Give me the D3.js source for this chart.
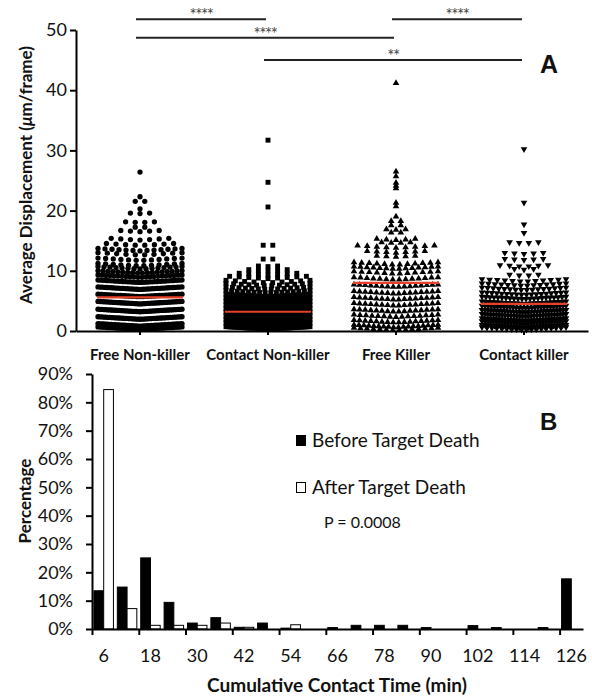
<!DOCTYPE html>
<html>
<head>
<meta charset="utf-8">
<script src="https://cdn.jsdelivr.net/npm/d3@7"></script>
<style>
  body { margin: 0; background: #fff; }
  text { font-family: Lato, "Open Sans", sans-serif; fill: #111; }
</style>
</head>
<body>
<div id="chart"></div>
<script>
// ---- panel A data: rows of [value, number of cells at that value] ----
const groups = ["Free Non-killer", "Contact Non-killer", "Free Killer", "Contact killer"];

const freeNonKiller = [
  [0.25, 30], [0.8, 45], [1.95, 45], [3.2, 45], [4.5, 45], [5.7, 42], [6.9, 38],
  [8.05, 32], [8.9, 22], [9.6, 18], [10.3, 15], [10.8, 12], [11.7, 12], [12.6, 10],
  [13.3, 13], [14.2, 8], [15.1, 7], [16.5, 5], [17.2, 2], [18.0, 4], [19.5, 3],
  [20.3, 1], [21.5, 2], [22.3, 1], [26.4, 1]
];
const contactNonKiller = [
  [0.3, 40], [0.9, 50], [1.5, 50], [2.1, 50], [2.7, 50], [3.3, 48], [3.9, 45],
  [4.5, 40], [5.1, 32], [5.7, 22], [6.3, 16], [6.9, 14], [7.5, 12], [8.0, 10],
  [8.7, 9], [9.3, 7], [10.0, 5], [10.7, 3], [11.9, 2], [14.2, 2], [20.6, 1],
  [24.7, 1], [31.7, 1]
];
const freeKiller = [
  [0.1, 14], [0.6, 18], [1.4, 16], [2.3, 15], [3.2, 16], [4.2, 16], [5.2, 16],
  [6.2, 16], [7.3, 16], [8.5, 14], [9.5, 12], [10.3, 14], [11.0, 12], [12.3, 5],
  [13.0, 7], [13.8, 9], [14.6, 4], [15.1, 5], [16.3, 2], [16.8, 3], [17.5, 2],
  [18.2, 2], [19.0, 1], [20.7, 1], [21.3, 1], [23.7, 1], [24.1, 1], [24.6, 1],
  [25.7, 1], [26.5, 1], [41.2, 1]
];
const contactKiller = [
  [0.2, 18], [0.6, 28], [1.2, 30], [1.7, 30], [2.4, 30], [3.1, 30], [3.8, 28],
  [4.5, 25], [5.3, 22], [6.0, 18], [6.8, 16], [7.5, 14], [8.2, 12], [9.2, 4],
  [10.2, 3], [10.7, 6], [11.8, 5], [12.8, 5], [14.6, 4], [16.3, 1], [17.7, 1],
  [21.3, 1], [30.2, 1]
];
const groupRows = [freeNonKiller, contactNonKiller, freeKiller, contactKiller];
const medians = [5.6, 3.2, 8.0, 4.5];
const yTicksA = [0, 10, 20, 30, 40, 50];

// significance brackets: group index from/to, label, height in axis units
const sigFrom = [0, 0, 1, 2];
const sigTo = [1, 2, 3, 3];
const sigLabel = ["****", "****", "**", "****"];
const sigLevel = [51.8, 48.7, 45.0, 51.8];

// ---- panel B data ----
const contactTimes = ["6", "12", "18", "24", "30", "36", "42", "48", "54", "60", "66",
  "72", "78", "84", "90", "96", "102", "108", "114", "120", "126"];
const seriesNames = ["Before Target Death", "After Target Death"];
const beforeDeath = [13.5, 14.8, 25.1, 9.4, 2.1, 4.0, 0.6, 2.1, 0.3, 0, 0.5,
  1.3, 1.3, 1.3, 0.5, 0, 1.2, 0.5, 0, 0.5, 17.7];
const afterDeath = [84.5, 7.2, 1.3, 1.3, 1.3, 2.1, 0.6, 0, 1.5, 0, 0,
  0, 0, 0, 0, 0, 0, 0, 0, 0, 0];
const yTicksB = [0, 10, 20, 30, 40, 50, 60, 70, 80, 90];

const svg = d3.select("#chart").append("svg")
  .attr("width", 592)
  .attr("height", 697);

function styleAxis(g, size) {
  g.attr("font-family", null).attr("font-size", null);
  g.select(".domain").attr("stroke-width", 2);
  g.selectAll(".tick line").attr("stroke-width", 2);
  g.selectAll(".tick text").attr("font-size", size).attr("fill", "#111");
}

// ================= panel A =================
const xA = d3.scaleBand().domain(groups).range([76, 588]);
const yA = d3.scaleLinear().domain([0, 50]).range([331, 30]);

const symbols = [
  d3.symbol().type(d3.symbolCircle).size(22),
  d3.symbol().type(d3.symbolSquare).size(24),
  d3.symbol().type(d3.symbolTriangle).size(19),
  d3.symbol().type(d3.symbolTriangle).size(19)
];
const halfWidth = 42;

groupRows.forEach((rows, gi) => {
  const cx = xA(groups[gi]) + xA.bandwidth() / 2;
  const pts = [];
  rows.forEach(([v, n]) => {
    const step = n > 1 ? Math.min(9.6, (2 * halfWidth) / (n - 1)) : 0;
    for (let i = 0; i < n; i++) {
      const dx = (i - (n - 1) / 2) * step;
      pts.push({ v, dx });
    }
  });
  svg.append("g").selectAll("path").data(pts).enter().append("path")
    .attr("d", symbols[gi])
    .attr("fill", "#000")
    .attr("transform", d => {
      const y = yA(d.v) - Math.abs(d.dx) * 0.06;
      return `translate(${cx + d.dx},${y})` + (gi === 3 ? " rotate(180)" : "");
    });
});

// medians
svg.append("g").selectAll("line").data(medians).enter().append("line")
  .attr("x1", (d, i) => xA(groups[i]) + xA.bandwidth() / 2 - 43)
  .attr("x2", (d, i) => xA(groups[i]) + xA.bandwidth() / 2 + 43)
  .attr("y1", d => yA(d))
  .attr("y2", d => yA(d))
  .attr("stroke", "#e8402a")
  .attr("stroke-width", 2.2);

// axes
svg.append("g")
  .attr("transform", "translate(76,0)")
  .call(d3.axisLeft(yA).tickValues(yTicksA).tickSize(6).tickPadding(3).tickSizeOuter(0))
  .call(g => styleAxis(g, 18));

svg.append("g")
  .attr("transform", "translate(0,331)")
  .call(d3.axisBottom(xA).tickSize(4).tickPadding(14).tickSizeOuter(0))
  .call(g => styleAxis(g, 15))
  .call(g => g.selectAll(".tick text").attr("font-weight", "bold"));

// significance brackets
const sig = svg.append("g");
sigFrom.forEach((f, i) => {
  const x1 = xA(groups[f]) + xA.bandwidth() / 2 - 4;
  const x2 = xA(groups[sigTo[i]]) + xA.bandwidth() / 2 - 2;
  const y = yA(sigLevel[i]);
  sig.append("line")
    .attr("x1", x1).attr("x2", x2).attr("y1", y).attr("y2", y)
    .attr("stroke", "#222").attr("stroke-width", 2);
  sig.append("text")
    .attr("x", (x1 + x2) / 2).attr("y", y + 2)
    .attr("text-anchor", "middle")
    .attr("font-size", 17)
    .attr("letter-spacing", -1.5)
    .attr("font-family", "DejaVu Sans")
    .style("fill", "#444")
    .text(sigLabel[i]);
});

// y title A
const titleA = svg.append("text")
  .attr("transform", "translate(32,175) rotate(-90)")
  .attr("text-anchor", "middle")
  .attr("font-size", 17)
  .attr("font-weight", "bold");
titleA.append("tspan").text("Average Displacement (");
titleA.append("tspan").attr("font-style", "italic").text("\u03bc");
titleA.append("tspan").text("m/frame)");

svg.append("text")
  .attr("x", 540).attr("y", 73)
  .attr("font-size", 25).attr("font-weight", "bold")
  .style("font-family", "'Liberation Sans', Arial, sans-serif")
  .text("A");

// ================= panel B =================
const xB = d3.scaleBand().domain(contactTimes).range([92, 583]);
const xIdx = d3.scaleLinear().domain([0, contactTimes.length]).range([92, 583]);
const xSub = d3.scaleBand().domain(seriesNames).range([0, xB.bandwidth()]).paddingOuter(0.2);
const yB = d3.scaleLinear().domain([0, 90]).range([629, 374]);

const seriesValues = [beforeDeath, afterDeath];
const seriesFill = ["#000", "#fff"];

seriesValues.forEach((vals, si) => {
  svg.append("g").selectAll("rect").data(vals).enter().append("rect")
    .attr("x", (d, i) => xB(contactTimes[i]) + xSub(seriesNames[si]))
    .attr("width", xSub.bandwidth())
    .attr("y", d => yB(d))
    .attr("height", d => yB(0) - yB(d))
    .attr("fill", seriesFill[si])
    .attr("stroke", d => d > 0 ? "#000" : "none")
    .attr("stroke-width", 1);
});

svg.append("g")
  .attr("transform", "translate(92,0)")
  .call(d3.axisLeft(yB).tickValues(yTicksB).tickFormat(d => d + "%")
    .tickSize(6).tickPadding(13).tickSizeOuter(0))
  .call(g => styleAxis(g, 18));

svg.append("g")
  .attr("transform", "translate(0,629)")
  .call(d3.axisBottom(xIdx).tickValues(d3.range(0, contactTimes.length, 2))
    .tickFormat("").tickSize(6).tickSizeOuter(0))
  .call(g => styleAxis(g, 17));

svg.append("g")
  .attr("transform", "translate(0,629)")
  .call(d3.axisBottom(xB).tickValues(contactTimes.filter((d, i) => i % 2 === 0))
    .tickSize(0).tickPadding(20))
  .call(g => styleAxis(g, 18))
  .call(g => g.select(".domain").remove());

svg.append("text")
  .attr("transform", "translate(31,501) rotate(-90)")
  .attr("text-anchor", "middle")
  .attr("font-size", 17).attr("font-weight", "bold")
  .text("Percentage");

svg.append("text")
  .attr("x", 337).attr("y", 692)
  .attr("text-anchor", "middle")
  .attr("font-size", 19).attr("font-weight", "bold")
  .text("Cumulative Contact Time (min)");

// legend
const legendY = [435, 482];
seriesNames.forEach((name, i) => {
  svg.append("rect")
    .attr("x", 296.5).attr("y", legendY[i] + 0.5)
    .attr("width", 9).attr("height", 10)
    .attr("fill", seriesFill[i]).attr("stroke", "#000").attr("stroke-width", 1);
  svg.append("text")
    .attr("x", 312).attr("y", legendY[i] + 12)
    .attr("font-size", 19)
    .text(name);
});

svg.append("text")
  .attr("x", 324).attr("y", 528)
  .attr("font-size", 16)
  .text("P = 0.0008");

svg.append("text")
  .attr("x", 540).attr("y", 430)
  .attr("font-size", 24).attr("font-weight", "bold")
  .style("font-family", "'Liberation Sans', Arial, sans-serif")
  .text("B");
</script>
</body>
</html>
